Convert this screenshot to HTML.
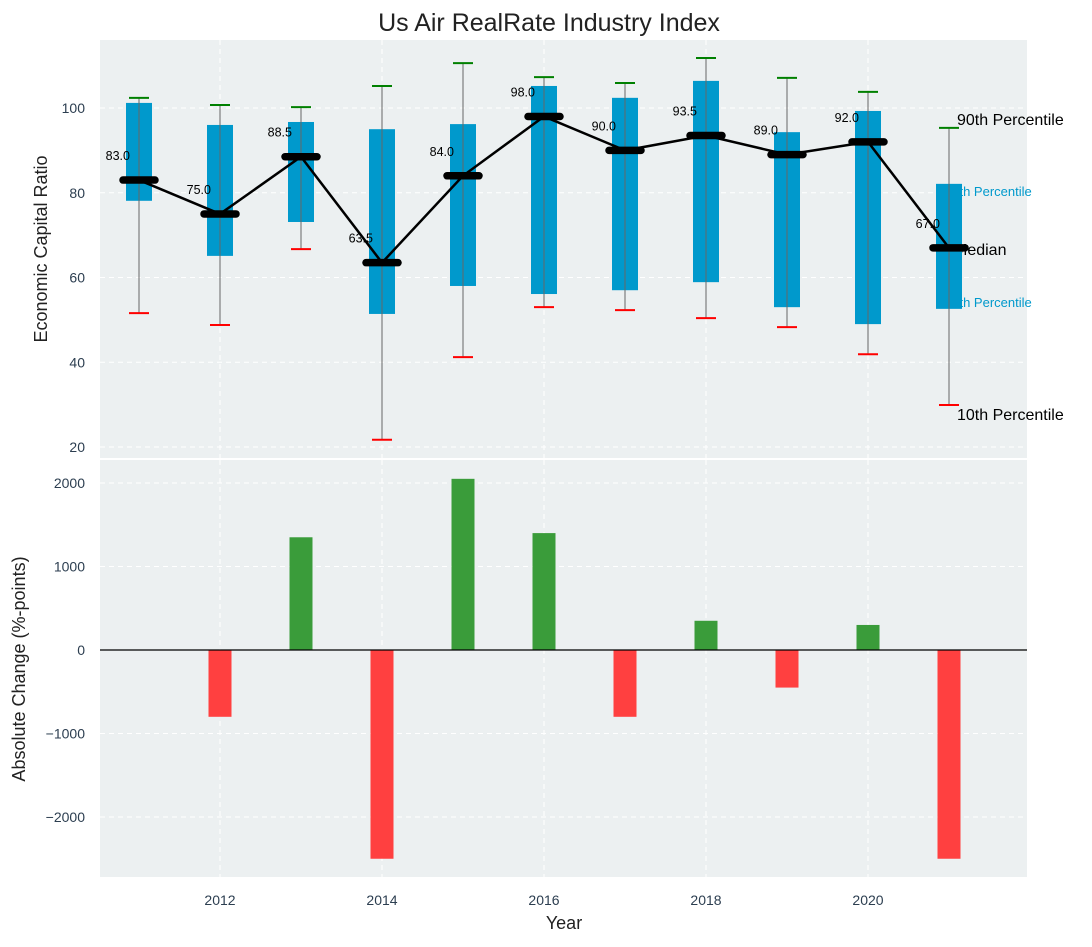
<!DOCTYPE html>
<html><head><meta charset="utf-8"><style>
body{margin:0;background:#fff;}
text{font-family:"Liberation Sans","DejaVu Sans",sans-serif;}
</style></head><body>
<svg id="chart" width="1092" height="942" xmlns="http://www.w3.org/2000/svg"></svg>
<script>
const years=[2011,2012,2013,2014,2015,2016,2017,2018,2019,2020,2021];
const p10=[51.6,48.8,66.7,21.7,41.2,53,52.3,50.4,48.3,41.9,29.9];
const q25=[78.1,65.1,73.1,51.4,58,56.1,57,58.9,53,49,52.6];
const medians=[83,75,88.5,63.5,84,98,90,93.5,89,92,67];
const q75=[101.2,96,96.7,95,96.2,105.2,102.4,106.4,94.3,99.3,82.1];
const p90=[102.4,100.7,100.2,105.2,110.6,107.3,105.9,111.8,107.1,103.8,95.3];
const changeYears=[2012,2013,2014,2015,2016,2017,2018,2019,2020,2021];
const changes=[-800,1350,-2500,2050,1400,-800,350,-450,300,-2500];
const topTicks=[20,40,60,80,100];
const botTicks=[-2000,-1000,0,1000,2000];
const xTicks=[2012,2014,2016,2018,2020];

const NS="http://www.w3.org/2000/svg";
const svg=document.getElementById('chart');
function el(tag,attrs,parent,txt){const e=document.createElementNS(NS,tag);for(const k in attrs)e.setAttribute(k,attrs[k]);if(txt!==undefined)e.textContent=txt;(parent||svg).appendChild(e);return e;}
const L=100,R=1027;
const x=v=>139+(v-2011)*81;
const yT=v=>108-(v-100)*4.2375;
const yB=v=>650-v*167/2000;
const T0=40,T1=458,B0=460,B1=877;

let t=el('text',{x:549,y:31,'text-anchor':'middle','font-size':25,fill:'#222'},svg,'Us Air RealRate Industry Index');


let bg=el('rect',{x:L,y:T0,width:R-L,height:T1-T0,fill:'#ecf0f1'});

bg=el('rect',{x:L,y:B0,width:R-L,height:B1-B0,fill:'#ecf0f1'});


topTicks.forEach(v=>{
  const g=el('line',{x1:L,x2:R,y1:yT(v),y2:yT(v),stroke:'#fff','stroke-dasharray':'5,4','stroke-width':1});
  
  const tl=el('text',{x:85,y:yT(v)+5,'text-anchor':'end','font-size':14,fill:'#2c3e50'},svg,String(v));
  
});
botTicks.forEach(v=>{
  const g=el('line',{x1:L,x2:R,y1:yB(v),y2:yB(v),stroke:'#fff','stroke-dasharray':'5,4','stroke-width':1});
  
  const tl=el('text',{x:85,y:yB(v)+5,'text-anchor':'end','font-size':14,fill:'#2c3e50'},svg,String(v).replace('-','\u2212'));
  
});
xTicks.forEach(v=>{
  [[T0,T1],[B0,B1]].forEach(([a,b])=>{
    const g=el('line',{x1:x(v),x2:x(v),y1:a,y2:b,stroke:'#fff','stroke-dasharray':'5,4','stroke-width':1});
    
  });
  const tl=el('text',{x:x(v),y:905,'text-anchor':'middle','font-size':14,fill:'#2c3e50'},svg,String(v));
  
});

const last=years.length-1, ax=x(years[last]);
[[p90[last],'90th Percentile',16,'#000',ax+8,-3],[q75[last],'75th Percentile',13,'#0099cc',ax-4,12],[medians[last],'Median',16,'#000',ax+5,7],[q25[last],'25th Percentile',13,'#0099cc',ax-4,-2],[p10[last],'10th Percentile',16,'#000',ax+8,15]].forEach(a=>{
  const e=el('text',{x:a[4],y:yT(a[0])+a[5],'font-size':a[2],fill:a[3]},svg,a[1]);
  
});

const bw=26, mw=38, cw=20;
years.forEach((yr,i)=>{
  const cx=x(yr);
  const b=el('rect',{x:cx-bw/2,y:yT(q75[i]),width:bw,height:yT(q25[i])-yT(q75[i]),fill:'#0099cc'});
  
  const w=el('line',{x1:cx,x2:cx,y1:yT(p90[i]),y2:yT(p10[i]),stroke:'#666','stroke-width':1});
  
  const c1=el('line',{x1:cx-cw/2,x2:cx+cw/2,y1:yT(p90[i]),y2:yT(p90[i]),stroke:'#008000','stroke-width':2});
  
  const c2=el('line',{x1:cx-cw/2,x2:cx+cw/2,y1:yT(p10[i]),y2:yT(p10[i]),stroke:'#ff0000','stroke-width':2});
  
});
const pl=el('polyline',{points:years.map((yr,i)=>x(yr)+','+yT(medians[i])).join(' '),fill:'none',stroke:'#000','stroke-width':2.5});

years.forEach((yr,i)=>{
  const cx=x(yr);
  const m=el('line',{x1:cx-mw/2+3,x2:cx+mw/2-3,y1:yT(medians[i]),y2:yT(medians[i]),stroke:'#000','stroke-width':7.5,'stroke-linecap':'round'});
  
  const lb=el('text',{x:cx-9,y:yT(medians[i])-20,'text-anchor':'end','font-size':12.5,fill:'#000'},svg,medians[i].toFixed(1));
  
});

changeYears.forEach((yr,i)=>{
  const v=changes[i], y0=yB(0), y1=yB(v);
  const b=el('rect',{x:x(yr)-11.5,y:Math.min(y0,y1),width:23,height:Math.abs(y1-y0),fill:v>=0?'#3a9c3a':'#ff4040'});
  
});
const zl=el('line',{x1:L,x2:R,y1:yB(0),y2:yB(0),stroke:'#000','stroke-width':1.2});


let at=el('text',{x:0,y:0,'text-anchor':'middle','font-size':18,fill:'#222',transform:'translate(47,249) rotate(-90)'},svg,'Economic Capital Ratio');

at=el('text',{x:0,y:0,'text-anchor':'middle','font-size':18,fill:'#222',transform:'translate(25,669) rotate(-90)'},svg,'Absolute Change (%-points)');

at=el('text',{x:564,y:929,'text-anchor':'middle','font-size':18,fill:'#222'},svg,'Year');

</script>
</body></html>
